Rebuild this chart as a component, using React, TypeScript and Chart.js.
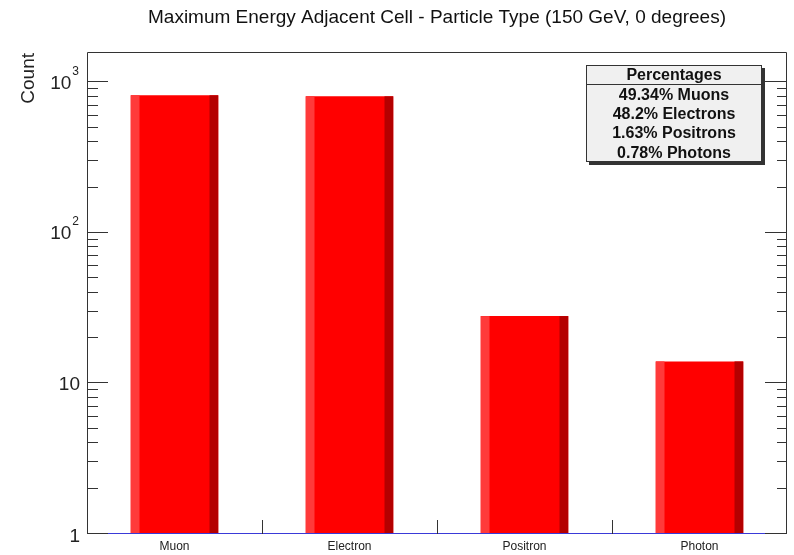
import React, { useEffect, useRef } from "react";
import { Chart, registerables } from "chart.js";
Chart.register(...registerables);

const chartTitle = "Maximum Energy Adjacent Cell - Particle Type (150 GeV, 0 degrees)";
const yAxisTitle = "Count";
const categories = ["Muon", "Electron", "Positron", "Photon"];
const counts = [820, 807, 28, 14];
const yMin = 1;
const yMax = 1590;
const majorTickValues = [1, 10, 100, 1000];
const majorTickBases = ["1", "10", "10", "10"];
const majorTickExps = ["", "", "2", "3"];
const legendHeader = "Percentages";
const legendLines = ["49.34% Muons", "48.2% Electrons", "1.63% Positrons", "0.78% Photons"];

const FONT = '"Liberation Sans", Arial, Helvetica, sans-serif';

const rootPlugin = {
  id: "rootStyle",
  afterDatasetsDraw(chart: any) {
    const ctx = chart.ctx;
    const meta = chart.getDatasetMeta(0);
    ctx.save();
    meta.data.forEach((bar: any) => {
      const w = bar.width;
      const left = bar.x - w / 2;
      const top = Math.min(bar.y, bar.base);
      const h = Math.abs(bar.base - bar.y);
      ctx.fillStyle = "#ff3a3a";
      ctx.fillRect(left, top, w * 0.1, h);
      ctx.fillStyle = "#b40000";
      ctx.fillRect(left + w * 0.9, top, w * 0.1, h);
    });
    ctx.restore();
  },
  afterDraw(chart: any) {
    const ctx = chart.ctx;
    const { left, right, top, bottom } = chart.chartArea;
    const xs = chart.scales.x;
    const ys = chart.scales.y;
    ctx.save();

    // frame
    ctx.strokeStyle = "#333";
    ctx.lineWidth = 1;
    ctx.beginPath();
    ctx.moveTo(left + 0.5, bottom);
    ctx.lineTo(left + 0.5, top + 0.5);
    ctx.lineTo(right - 0.5, top + 0.5);
    ctx.lineTo(right - 0.5, bottom);
    ctx.stroke();
    ctx.strokeStyle = "#3a3ad8";
    ctx.beginPath();
    ctx.moveTo(left, bottom - 0.5);
    ctx.lineTo(right, bottom - 0.5);
    ctx.stroke();

    // y ticks
    ctx.strokeStyle = "#333";
    ctx.beginPath();
    majorTickValues.forEach((d) => {
      for (let m = 1; m <= 9; m++) {
        const v = d * m;
        if (v > yMax || v < yMin) continue;
        const py = Math.round(ys.getPixelForValue(v)) - 0.5;
        const lenL = m === 1 ? 21 : 11;
        const lenR = m === 1 ? 22 : 10;
        ctx.moveTo(left, py);
        ctx.lineTo(left + lenL, py);
        ctx.moveTo(right, py);
        ctx.lineTo(right - lenR, py);
      }
    });
    // x ticks at bin edges
    for (let i = 0; i < categories.length - 1; i++) {
      const px = Math.round((xs.getPixelForValue(i) + xs.getPixelForValue(i + 1)) / 2) + 0.5;
      ctx.moveTo(px, bottom);
      ctx.lineTo(px, bottom - 14);
    }
    ctx.stroke();

    // y labels
    ctx.fillStyle = "#222";
    ctx.textBaseline = "middle";
    majorTickValues.forEach((v, i) => {
      const py = ys.getPixelForValue(v);
      const base = majorTickBases[i];
      const exp = majorTickExps[i];
      ctx.font = `12px ${FONT}`;
      const ew = exp ? ctx.measureText(exp).width : 0;
      if (exp) {
        ctx.textAlign = "right";
        ctx.fillText(exp, 79, py - 11);
      }
      ctx.font = `19px ${FONT}`;
      ctx.textAlign = "right";
      ctx.fillText(base, exp ? 79 - ew - 1 : 80, py + (i === 0 ? 3 : 1));
    });

    // x labels
    ctx.font = `12px ${FONT}`;
    ctx.textAlign = "center";
    ctx.textBaseline = "middle";
    categories.forEach((c, i) => {
      ctx.fillText(c, xs.getPixelForValue(i), 547);
    });

    // y axis title
    ctx.save();
    ctx.translate(34, 53);
    ctx.rotate(-Math.PI / 2);
    ctx.font = `19px ${FONT}`;
    ctx.textAlign = "right";
    ctx.textBaseline = "alphabetic";
    ctx.fillText(yAxisTitle, 0, 0);
    ctx.restore();

    // title
    ctx.font = `19px ${FONT}`;
    ctx.textAlign = "center";
    ctx.textBaseline = "middle";
    ctx.fillStyle = "#111";
    ctx.fillText(chartTitle, (left + right) / 2, 18);

    // legend box
    const bx = 586, by = 65, bw = 176, bh = 97;
    ctx.fillStyle = "#333";
    ctx.fillRect(bx + 3, by + 3, bw, bh);
    ctx.fillStyle = "#f0f0f0";
    ctx.fillRect(bx, by, bw, bh);
    ctx.strokeStyle = "#333";
    ctx.strokeRect(bx + 0.5, by + 0.5, bw - 1, bh - 1);
    ctx.beginPath();
    ctx.moveTo(bx, by + 19.5);
    ctx.lineTo(bx + bw, by + 19.5);
    ctx.stroke();
    ctx.fillStyle = "#111";
    ctx.font = `bold 16px ${FONT}`;
    ctx.textAlign = "center";
    ctx.textBaseline = "middle";
    const cx = bx + bw / 2;
    ctx.fillText(legendHeader, cx, by + 10.5);
    legendLines.forEach((t, i) => {
      ctx.fillText(t, cx, by + 30.5 + i * 19.2);
    });

    ctx.restore();
  },
};

export default function App() {
  const ref = useRef<HTMLCanvasElement | null>(null);
  useEffect(() => {
    if (!ref.current) return;
    const chart = new Chart(ref.current, {
      type: "bar",
      data: {
        labels: categories,
        datasets: [
          {
            data: counts,
            backgroundColor: "#ff0000",
            borderWidth: 0,
            barPercentage: 0.5,
            categoryPercentage: 1,
          },
        ],
      },
      options: {
        animation: false,
        responsive: false,
        maintainAspectRatio: false,
        layout: { padding: { left: 87, right: 7, top: 52, bottom: 21 } },
        plugins: { legend: { display: false }, tooltip: { enabled: false }, title: { display: false } },
        scales: {
          x: { type: "category", offset: true, display: false, grid: { display: false } },
          y: { type: "logarithmic", min: yMin, max: yMax, display: false, grid: { display: false } },
        },
      },
      plugins: [rootPlugin],
    });
    return () => chart.destroy();
  }, []);
  return (
    <div style={{ position: "absolute", left: 0, top: 0, width: 794, height: 555, background: "#fff" }}>
      <canvas ref={ref} width={794} height={555} style={{ width: 794, height: 555 }} />
    </div>
  );
}
